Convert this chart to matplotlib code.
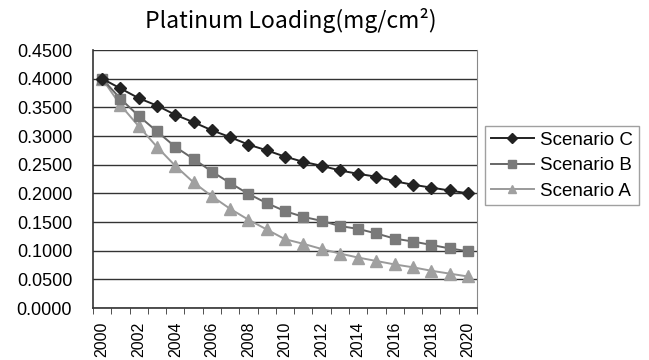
import matplotlib
matplotlib.use("Agg")
import matplotlib.pyplot as plt
import numpy as np

years = list(range(2000, 2021))
scenario_c = [0.400, 0.383, 0.366, 0.353, 0.337, 0.324, 0.310, 0.298, 0.285, 0.275,
              0.264, 0.255, 0.248, 0.240, 0.234, 0.229, 0.221, 0.215, 0.210, 0.205, 0.200]
scenario_b = [0.400, 0.365, 0.335, 0.308, 0.281, 0.260, 0.238, 0.218, 0.199, 0.183,
              0.169, 0.159, 0.152, 0.143, 0.138, 0.130, 0.121, 0.116, 0.110, 0.104, 0.099]
scenario_a = [0.400, 0.354, 0.317, 0.281, 0.248, 0.219, 0.195, 0.173, 0.154, 0.137,
              0.120, 0.112, 0.103, 0.095, 0.088, 0.082, 0.076, 0.071, 0.065, 0.060, 0.055]
yticks = [0.0, 0.05, 0.10, 0.15, 0.20, 0.25, 0.30, 0.35, 0.40, 0.45]

plt.rcParams['font.family'] = ['Liberation Sans', 'DejaVu Sans']

fig = plt.figure(figsize=(6.49, 3.6), dpi=100)
ax = fig.add_axes([0.1433, 0.1444, 0.5917, 0.7167])

x = np.arange(len(years))
ax.plot(x, scenario_c, color='#222222', lw=1.4, marker='D', ms=6.5, label='Scenario C', zorder=5)
ax.plot(x, scenario_b, color='#666666', lw=1.4, marker='s', ms=7.5,
        mfc='#7a7a7a', mec='#7a7a7a', label='Scenario B', zorder=4)
ax.plot(x, scenario_a, color='#9a9a9a', lw=1.4, marker='^', ms=8,
        mfc='#a0a0a0', mec='#a0a0a0', label='Scenario A', zorder=3)

ax.set_xlim(-0.5, len(years) - 0.5)
ax.set_ylim(0, 0.45)
ax.set_yticks(yticks)
ax.set_yticklabels([f"{v:.4f}" for v in yticks], fontsize=13)
ax.tick_params(axis='y', length=0, pad=15)
ax.yaxis.grid(True, color='#333333', lw=1.0)
ax.set_axisbelow(True)

ax.set_xticks(x[::2])
ax.set_xticklabels([str(y) for y in years[::2]], rotation=90, fontsize=11.5)
ax.set_xticks(np.arange(len(years) + 1) - 0.5, minor=True)
ax.tick_params(axis='x', which='major', length=0, pad=10)
ax.tick_params(axis='x', which='minor', length=4, direction='out', color='#333333')

for s in ['left', 'bottom']:
    ax.spines[s].set_color('#333333')
    ax.spines[s].set_linewidth(1.2)
ax.spines['top'].set_visible(False)
ax.spines['right'].set_color('#888888')

fig.text(0.448, 0.944, "Platinum Loading(mg/cm²)", ha='center', va='center',
         fontsize=16.5, color='black', family=['Noto Sans CJK JP', 'DejaVu Sans'])

leg = ax.legend(loc='center left', bbox_to_anchor=(1.021, 0.552), fontsize=13.5,
                frameon=True, fancybox=False, edgecolor='#888888',
                handlelength=2.3, borderpad=0.3, labelspacing=0.45, handletextpad=0.35,
                borderaxespad=0, markerscale=0.8)
leg.get_frame().set_linewidth(1.0)

fig.savefig("out.png", dpi=100)
